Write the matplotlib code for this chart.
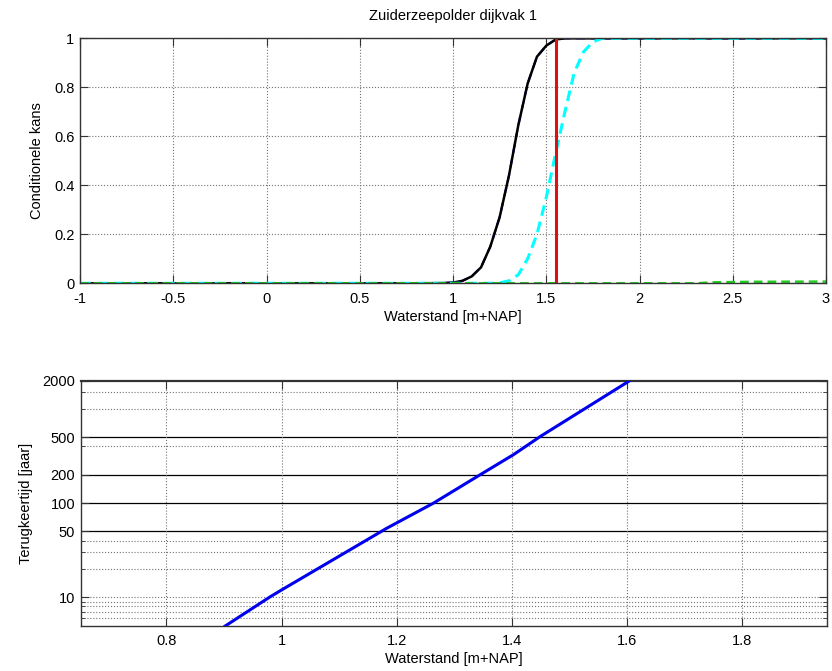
import numpy as np
import matplotlib
matplotlib.use("Agg")
import matplotlib.pyplot as plt
from matplotlib.ticker import FixedLocator, NullFormatter

plt.rcParams['font.family'] = ['Liberation Sans', 'DejaVu Sans']
plt.rcParams['font.size'] = 10.5
plt.rcParams['axes.unicode_minus'] = False

# top panel: conditional probability curves
x_black = [-1, 0.8, 0.95, 1.0, 1.05, 1.1, 1.15, 1.2, 1.25, 1.3, 1.35, 1.4, 1.45, 1.5, 1.55, 1.6, 3]
p_black = [0, 0, 0.001, 0.003, 0.01, 0.028, 0.065, 0.15, 0.27, 0.44, 0.645, 0.815, 0.925, 0.97, 0.995, 1.0, 1.0]

x_cyan = [-1, 1.2, 1.25, 1.3, 1.35, 1.4, 1.45, 1.5, 1.55, 1.6, 1.65, 1.7, 1.75, 1.8, 3]
p_cyan = [0, 0, 0.002, 0.01, 0.035, 0.1, 0.2, 0.35, 0.53, 0.7, 0.86, 0.945, 0.985, 1.0, 1.0]

x_green = [-1, 2.3, 2.4, 2.6, 3]
p_green = [0, 0, 0.004, 0.006, 0.007]

x_red = 1.55

# bottom panel: return period line
h_ret = [0.902, 0.98, 1.0, 1.183, 1.264, 1.345, 1.403, 1.45, 1.606]
t_ret = [4.95, 10.1, 11.96, 54.2, 100, 200, 327, 512, 2014]

t_major = [10, 50, 100, 200, 500, 2000]
t_solid = [50, 100, 200, 500]
t_dotted = [6, 7, 8, 9, 10, 20, 30, 40, 400, 1000, 1500]

spine_col = '0.2'

fig = plt.figure(figsize=(8.32, 6.71), dpi=100)

ax1 = fig.add_axes([0.0962, 0.5778, 0.8966, 0.3651])
ax1.plot(x_black, p_black, color='blue', lw=1.5, ls='--', dashes=(4, 3))
ax1.plot(x_black, p_black, color='black', lw=1.8)
ax1.plot(x_cyan, p_cyan, color='cyan', lw=2.2, ls='--', dashes=(3.5, 2))
ax1.plot(x_green, p_green, color='#22cc22', lw=1.8, ls='--', dashes=(3.5, 2))
ax1.plot([x_red, x_red], [0, 1], color='#dd1111', lw=2.2)
ax1.set_xlim(-1, 3)
ax1.set_ylim(0, 1)
ax1.set_xticks(np.arange(-1, 3.01, 0.5))
ax1.set_xticklabels(['-1', '-0.5', '0', '0.5', '1', '1.5', '2', '2.5', '3'])
ax1.set_yticks([0, 0.2, 0.4, 0.6, 0.8, 1])
ax1.set_yticklabels(['0', '0.2', '0.4', '0.6', '0.8', '1'])
ax1.grid(True, ls=':', color='0.45', lw=0.8)
ax1.set_title('Zuiderzeepolder dijkvak 1', pad=13, fontsize=10.5)
ax1.set_xlabel('Waterstand [m+NAP]', labelpad=3)
ax1.set_ylabel('Conditionele kans', labelpad=7)

ax2 = fig.add_axes([0.097, 0.0671, 0.897, 0.3656])
for t in t_solid:
    ax2.axhline(t, color='black', lw=0.9, zorder=1)
for t in t_dotted:
    ax2.axhline(t, color='0.45', lw=0.8, ls=':', zorder=1)
ax2.plot(h_ret, t_ret, color='#0000ee', lw=2.2, zorder=3)
ax2.set_yscale('log')
ax2.set_xlim(0.651, 1.948)
ax2.set_ylim(4.96, 2000)
ax2.set_xticks([0.8, 1.0, 1.2, 1.4, 1.6, 1.8])
ax2.set_xticklabels(['0.8', '1', '1.2', '1.4', '1.6', '1.8'])
ax2.yaxis.set_major_locator(FixedLocator(t_major))
ax2.set_yticklabels([str(t) for t in t_major])
ax2.yaxis.set_minor_locator(FixedLocator(t_dotted))
ax2.yaxis.set_minor_formatter(NullFormatter())
ax2.grid(True, axis='x', ls=':', color='0.45', lw=0.8)
ax2.set_xlabel('Waterstand [m+NAP]', labelpad=3)
ax2.set_ylabel('Terugkeertijd [jaar]', labelpad=7)

for ax in (ax1, ax2):
    for s in ax.spines.values():
        s.set_color(spine_col)
        s.set_linewidth(1.0)
    ax.tick_params(which='major', direction='in', length=6, top=True, right=True,
                   color=spine_col, pad=6)
    ax.tick_params(which='minor', direction='in', length=3, top=True, right=True,
                   color=spine_col)
ax1.tick_params(axis='y', pad=4)
ax2.tick_params(axis='y', pad=4)
ax2.spines['top'].set_linewidth(1.6)

fig.savefig('out.png', dpi=100)
